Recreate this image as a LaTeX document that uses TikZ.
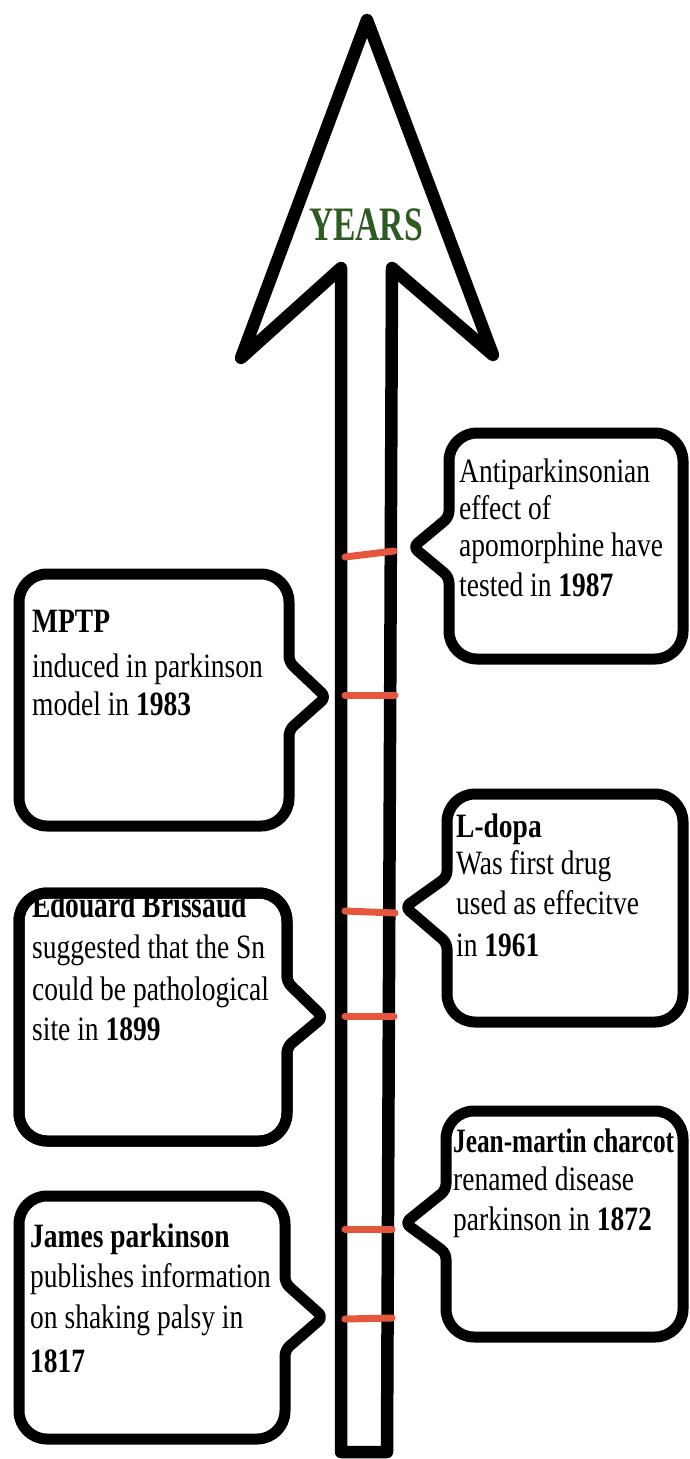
\documentclass[tikz,border=0pt]{standalone}
\usepackage{fontspec}
\setmainfont{Liberation Serif}
\usepackage{graphicx}
\definecolor{tickred}{HTML}{E4573D}
\definecolor{yearsgreen}{HTML}{2E5B22}
\tikzset{
  outline/.style={line width=12.5pt, line join=round, draw=black},
  callout/.style={line width=11pt, draw=black, fill=white, line join=round, rounded corners=28pt},
  calloutline/.style={line width=11pt, draw=black, line join=round, rounded corners=28pt},
  tickmark/.style={line width=7pt, draw=tickred, line cap=round},
  txt/.style={anchor=base west, inner sep=0pt, font=\fontsize{27.5}{30}\selectfont},
}
\newcommand{\vs}[1]{\scalebox{1}[1.24]{#1}}
% left box, pointer on the right: #2 L, #3 T, #4 R, #5 B, #6 p1, #7 tipx, #8 tipy, #9 p2
\newcommand{\calloutL}[9][callout]{%
  \path[#1] ({(#2+#4)/2},#3) -- (#4,#3) [rounded corners=6pt] -- (#4,#6) -- (#7,#8) -- (#4,#9) [rounded corners=28pt] -- (#4,#5) -- (#2,#5) -- (#2,#3) -- cycle;}
% right box, pointer on the left
\newcommand{\calloutR}[9][callout]{%
  \path[#1] ({(#2+#4)/2},#3) -- (#4,#3) -- (#4,#5) -- (#2,#5) [rounded corners=6pt] -- (#2,#9) -- (#7,#8) -- (#2,#6) [rounded corners=28pt] -- (#2,#3) -- cycle;}
\begin{document}
\begin{tikzpicture}[x=1pt,y=-1pt]
\useasboundingbox[fill=white] (0,0) rectangle (689,1459);

% the time arrow
\coordinate (sbl) at (341,1452);
\coordinate (stl) at (341,268);
\coordinate (barbl) at (241,358);
\coordinate (tip) at (367,20);
\coordinate (barbr) at (493,355);
\coordinate (str) at (392,268);
\coordinate (sbr) at (387,1452);
\draw[outline] (sbl) -- (stl) -- (barbl) -- (tip) -- (barbr) -- (str) -- (sbr) -- cycle;
\node[anchor=base, inner sep=0pt, text=yearsgreen, font=\fontsize{48}{50}\selectfont\bfseries] (years) at (366,240) {\scalebox{0.7}[1]{YEARS}};

% ticks on the arrow
\draw[tickmark] (345,557) coordinate (k1a) -- (394,551) coordinate (k1b);
\draw[tickmark] (345,695) coordinate (k2a) -- (395,695) coordinate (k2b);
\draw[tickmark] (345,911) coordinate (k3a) -- (395,913) coordinate (k3b);
\draw[tickmark] (345,1016) coordinate (k4a) -- (394,1016) coordinate (k4b);
\draw[tickmark] (345,1229) coordinate (k5a) -- (392,1229) coordinate (k5b);
\draw[tickmark] (345,1319) coordinate (k6a) -- (392,1318) coordinate (k6b);

% callouts
\calloutR{449}{433}{683}{659}{517}{413}{547}{577}
\calloutL{19}{574}{289}{826}{662}{326}{697}{730}
\calloutR{447}{794}{683}{1022}{877}{405}{907}{943}
\calloutL{19}{893}{287}{1141}{982}{323}{1017}{1047}
\calloutR{446}{1111}{683}{1337}{1190}{405}{1223}{1253}
\calloutL{19}{1196}{285}{1439}{1283}{323}{1317}{1350}

% texts
\node[txt] (a1) at (459,482) {\vs{Antiparkinsonian}};
\node[txt] (a2) at (459,519) {\vs{effect of}};
\node[txt] (a3) at (459,556) {\vs{apomorphine have}};
\node[txt] (a4) at (459,596) {\vs{tested in \textbf{1987}}};

\node[txt] (b1) at (32,632) {\vs{\textbf{MPTP}}};
\node[txt] (b2) at (32,677) {\vs{induced in parkinson}};
\node[txt] (b3) at (32,715) {\vs{model in \textbf{1983}}};

\node[txt] (c1) at (456,837) {\vs{\textbf{L-dopa}}};
\node[txt] (c2) at (456,874) {\vs{Was first drug}};
\node[txt] (c3) at (456,914) {\vs{used as effecitve}};
\node[txt] (c4) at (456,956) {\vs{in \textbf{1961}}};

\node[txt] (d1) at (32,917) {\scalebox{1}[1.35]{\textbf{Edouard Brissaud}}};
\node[txt] (d2) at (32,958) {\vs{suggested that the Sn}};
\node[txt] (d3) at (32,1000) {\vs{could be pathological}};
\node[txt] (d4) at (32,1040) {\vs{site in \textbf{1899}}};
\calloutL[calloutline]{19}{893}{287}{1141}{982}{323}{1017}{1047}

\node[txt] (f1) at (453,1152) {\scalebox{0.92}[1.24]{\textbf{Jean-martin charcot}}};
\node[txt] (f2) at (453,1190) {\vs{renamed disease}};
\node[txt] (f3) at (453,1230) {\vs{parkinson in \textbf{1872}}};

\node[txt] (e1) at (30,1247) {\vs{\textbf{James parkinson}}};
\node[txt] (e2) at (30,1287) {\vs{publishes information}};
\node[txt] (e3) at (30,1328) {\vs{on shaking palsy in}};
\node[txt] (e4) at (30,1372) {\vs{\textbf{1817}}};
\end{tikzpicture}
\end{document}
